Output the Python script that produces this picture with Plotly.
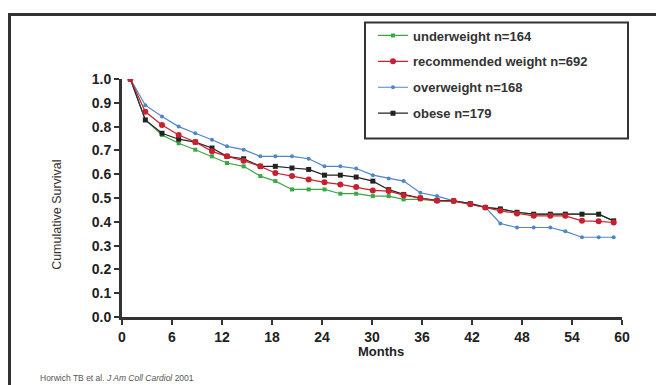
import plotly.graph_objects as go

months = [1, 2.8, 4.8, 6.8, 8.8, 10.8, 12.6, 14.6, 16.6, 18.4, 20.4, 22.4, 24.3, 26.2, 28.1,
          30.1, 32, 33.8, 35.8, 37.8, 39.8, 41.8, 43.6, 45.4, 47.4, 49.4, 51.4, 53.2, 55.2, 57.2, 59]

underweight = [1.0, 0.828, 0.765, 0.73, 0.703, 0.675, 0.647, 0.633, 0.592, 0.571, 0.536, 0.536, 0.536,
               0.518, 0.518, 0.508, 0.508, 0.494, 0.494, 0.488, 0.488, 0.476, 0.462, 0.454, 0.44,
               0.432, 0.432, 0.432, 0.432, 0.432, 0.402]
recommended = [1.0, 0.862, 0.807, 0.765, 0.735, 0.696, 0.675, 0.657, 0.633, 0.605, 0.592, 0.578, 0.566,
               0.557, 0.546, 0.532, 0.529, 0.512, 0.499, 0.488, 0.487, 0.474, 0.46, 0.446, 0.435,
               0.425, 0.425, 0.425, 0.404, 0.402, 0.397]
overweight = [1.0, 0.89, 0.842, 0.80, 0.772, 0.745, 0.717, 0.703, 0.675, 0.675, 0.675, 0.665, 0.633,
              0.633, 0.624, 0.596, 0.582, 0.571, 0.522, 0.508, 0.488, 0.476, 0.462, 0.393, 0.376,
              0.376, 0.376, 0.36, 0.335, 0.335, 0.335]
obese = [1.0, 0.828, 0.772, 0.747, 0.735, 0.71, 0.675, 0.665, 0.633, 0.633, 0.626, 0.62, 0.596,
         0.596, 0.588, 0.571, 0.535, 0.515, 0.50, 0.49, 0.488, 0.476, 0.46, 0.454, 0.44,
         0.432, 0.432, 0.432, 0.432, 0.432, 0.404]

series_names = ["underweight n=164", "recommended weight n=692", "overweight n=168", "obese n=179"]
x_ticks = [0, 6, 12, 18, 24, 30, 36, 42, 48, 54, 60]
y_ticks = [0.0, 0.1, 0.2, 0.3, 0.4, 0.5, 0.6, 0.7, 0.8, 0.9, 1.0]

styles = [
    dict(color="#3aa845", size=4, symbol="square"),
    dict(color="#c8202e", size=6, symbol="circle"),
    dict(color="#4f86c6", size=4, symbol="circle"),
    dict(color="#222222", size=5, symbol="square"),
]
data = [underweight, recommended, overweight, obese]

fig = go.Figure()
order = [0, 2, 3, 1]
for i in order:
    st = styles[i]
    fig.add_trace(go.Scatter(
        x=months, y=data[i], name=series_names[i], mode="lines+markers",
        line=dict(color=st["color"], width=1.2),
        marker=dict(color=st["color"], size=st["size"], symbol=st["symbol"]),
        legendgroup=f"g{i}", legendrank=i + 1,
    ))

# page has an 8px body margin, so figure coords = reference coords - 8
W, H = 656, 377
L, R, T, B = 114, 42, 69, 68
pw, ph = W - L - R, H - T - B

def px(x):
    return (x - L) / pw

def py(y):
    return (H - B - y) / ph

fig.update_layout(
    width=W, height=H,
    margin=dict(l=L, r=R, t=T, b=B),
    paper_bgcolor="white", plot_bgcolor="white",
    font=dict(family="Liberation Sans, Arial, sans-serif", color="#222222"),
    showlegend=True,
    legend=dict(
        x=px(365), y=py(10), xanchor="left", yanchor="top",
        bgcolor="rgba(0,0,0,0)", borderwidth=0,
        font=dict(size=13, color="#333333", family="Liberation Sans, Arial, sans-serif", weight="bold"),
        traceorder="grouped", tracegroupgap=6, itemwidth=30,
    ),
    xaxis=dict(
        range=[0, 60], tickvals=x_ticks, ticktext=[str(v) for v in x_ticks],
        showgrid=False, zeroline=False, showline=True, linecolor="#333333", linewidth=3,
        ticks="outside", ticklen=5, tickwidth=2, tickcolor="#333333",
        tickfont=dict(size=14, weight="bold", color="#222222"),
    ),
    yaxis=dict(
        range=[0, 1.0], tickvals=y_ticks, ticktext=[f"{v:.1f}" for v in y_ticks],
        showgrid=False, zeroline=False, showline=True, linecolor="#333333", linewidth=3,
        ticks="outside", ticklen=5, tickwidth=2, tickcolor="#333333",
        tickfont=dict(size=14, weight="bold", color="#222222"),
    ),
    shapes=[
        dict(type="rect", xref="paper", yref="paper",
             x0=px(1.5), x1=px(650), y0=py(4), y1=py(400),
             line=dict(color="#333333", width=3), fillcolor="rgba(0,0,0,0)", layer="below"),
        dict(type="rect", xref="paper", yref="paper",
             x0=px(357), x1=px(620), y0=py(12), y1=py(129),
             line=dict(color="#333333", width=2), fillcolor="white", layer="below"),
    ],
    annotations=[
        dict(text="Cumulative Survival", xref="paper", yref="paper", x=px(49), y=py(206),
             textangle=-90, showarrow=False, font=dict(size=12.5, color="#333333"),
             xanchor="center", yanchor="middle"),
        dict(text="<b>Months</b>", xref="paper", yref="paper", x=px(373), y=py(344),
             showarrow=False, font=dict(size=13, color="#222222"),
             xanchor="center", yanchor="middle"),
        dict(text="Horwich TB et al. <i>J Am Coll Cardiol</i> 2001", xref="paper", yref="paper",
             x=px(30), y=py(371), showarrow=False, font=dict(size=8.5, color="#555555"),
             xanchor="left", yanchor="middle"),
    ],
)

fig.write_html("out.html")
